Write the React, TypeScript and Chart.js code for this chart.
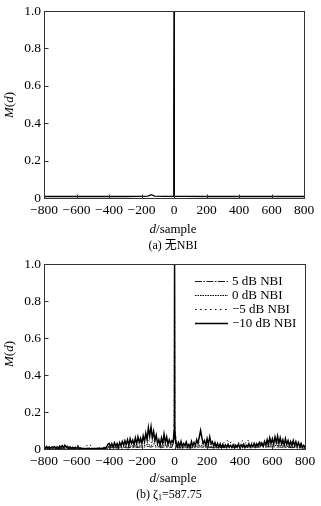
import React, { useEffect, useRef } from "react";
import { Chart, registerables } from "chart.js";

Chart.register(...registerables);

// ---------- Data ----------
// (a) no NBI: sparse samples of M(d)
const TOP_D = [-800, -700, -600, -500, -400, -300, -200, -160, -140, -120, -60, -3, -2, -1, 0, 1, 2, 3, 60, 200, 400, 600, 800];
const TOP_M = [0.008, 0.008, 0.008, 0.008, 0.008, 0.008, 0.009, 0.010, 0.018, 0.010, 0.009, 0.009, 0.25, 0.47, 1.0, 0.7, 0.3, 0.009, 0.009, 0.008, 0.008, 0.008, 0.008];

// (b) series on regular sample grids
const START_D = -800;
const STEP_FINE = 8; // −10 dB series
const STEP_COARSE = 16; // other series

const M_NEG10 = [
  0.010, 0.004, 0.014, 0.006, 0.012, 0.003, 0.011, 0.007, 0.013, 0.005,
  0.012, 0.004, 0.016, 0.008, 0.018, 0.006, 0.020, 0.010, 0.015, 0.005,
  0.012, 0.003, 0.010, 0.004, 0.008, 0.002, 0.015, 0.003, 0.006, 0.002,
  0.003, 0.001, 0.002, 0.001, 0.003, 0.002, 0.001, 0.002, 0.001, 0.002,
  0.001, 0.002, 0.001, 0.002, 0.001, 0.003, 0.002, 0.004, 0.012, 0.025,
  0.030, 0.012, 0.028, 0.010, 0.033, 0.015, 0.030, 0.008, 0.035, 0.018,
  0.040, 0.020, 0.045, 0.025, 0.050, 0.018, 0.055, 0.030, 0.048, 0.022,
  0.060, 0.028, 0.065, 0.035, 0.058, 0.030, 0.070, 0.040, 0.085, 0.050,
  0.115, 0.070, 0.120, 0.060, 0.095, 0.045, 0.075, 0.030, 0.050, 0.020,
  0.060, 0.030, 0.080, 0.035, 0.065, 0.025, 0.050, 0.030, 0.045, 0.035,
  1.0,
  0.030, 0.012, 0.035, 0.015, 0.040, 0.010, 0.030, 0.018, 0.038, 0.012,
  0.025, 0.010, 0.040, 0.015, 0.035, 0.020, 0.050, 0.030, 0.065, 0.100,
  0.060, 0.030, 0.045, 0.020, 0.055, 0.025, 0.065, 0.030, 0.040, 0.015,
  0.035, 0.012, 0.030, 0.010, 0.028, 0.008, 0.025, 0.010, 0.022, 0.008,
  0.025, 0.010, 0.020, 0.008, 0.022, 0.006, 0.020, 0.010, 0.025, 0.008,
  0.022, 0.010, 0.025, 0.008, 0.020, 0.012, 0.028, 0.010, 0.024, 0.012,
  0.030, 0.012, 0.028, 0.015, 0.035, 0.018, 0.032, 0.015, 0.040, 0.020,
  0.050, 0.022, 0.060, 0.030, 0.055, 0.025, 0.065, 0.035, 0.070, 0.030,
  0.060, 0.028, 0.050, 0.020, 0.055, 0.025, 0.045, 0.018, 0.040, 0.020,
  0.045, 0.018, 0.040, 0.015, 0.035, 0.012, 0.030, 0.010, 0.020, 0.008,
];

const M_NEG5 = [
  0.006, 0.010, 0.004, 0.008, 0.012, 0.005, 0.009, 0.004, 0.010, 0.006,
  0.004, 0.008, 0.003, 0.006, 0.004, 0.003, 0.010, 0.028, 0.018, 0.004,
  0.003, 0.005, 0.004, 0.010, 0.006, 0.015, 0.008, 0.018, 0.010, 0.020,
  0.012, 0.025, 0.015, 0.030, 0.018, 0.028, 0.020, 0.035, 0.025, 0.040,
  0.045, 0.030, 0.050, 0.025, 0.035, 0.018, 0.040, 0.020, 0.030, 0.025,
  1.0,
  0.020, 0.012, 0.025, 0.015, 0.020, 0.010, 0.022, 0.015, 0.030, 0.040,
  0.025, 0.030, 0.020, 0.025, 0.015, 0.022, 0.018, 0.030, 0.035, 0.050,
  0.030, 0.040, 0.025, 0.035, 0.030, 0.045, 0.028, 0.050, 0.030, 0.035,
  0.025, 0.030, 0.035, 0.040, 0.030, 0.045, 0.035, 0.040, 0.030, 0.035,
  0.028, 0.030, 0.022, 0.025, 0.020, 0.022, 0.015, 0.018, 0.012, 0.010,
];

const M_0 = [
  0.004, 0.006, 0.003, 0.005, 0.004, 0.007, 0.003, 0.005, 0.004, 0.006,
  0.003, 0.005, 0.004, 0.003, 0.002, 0.004, 0.003, 0.005, 0.004, 0.003,
  0.004, 0.006, 0.005, 0.008, 0.006, 0.010, 0.007, 0.012, 0.008, 0.010,
  0.009, 0.014, 0.010, 0.016, 0.012, 0.018, 0.013, 0.020, 0.015, 0.022,
  0.025, 0.018, 0.028, 0.015, 0.020, 0.012, 0.022, 0.014, 0.018, 0.015,
  1.0,
  0.012, 0.008, 0.014, 0.010, 0.012, 0.008, 0.013, 0.010, 0.018, 0.022,
  0.015, 0.018, 0.012, 0.014, 0.010, 0.013, 0.011, 0.015, 0.014, 0.020,
  0.016, 0.022, 0.015, 0.020, 0.018, 0.024, 0.016, 0.022, 0.018, 0.020,
  0.015, 0.018, 0.020, 0.022, 0.018, 0.025, 0.020, 0.022, 0.018, 0.020,
  0.016, 0.018, 0.014, 0.015, 0.012, 0.013, 0.010, 0.011, 0.008, 0.006,
];

const M_5 = [
  0.002, 0.004, 0.003, 0.002, 0.004, 0.003, 0.002, 0.003, 0.004, 0.002,
  0.003, 0.002, 0.004, 0.003, 0.002, 0.003, 0.002, 0.004, 0.003, 0.002,
  0.003, 0.004, 0.003, 0.005, 0.004, 0.006, 0.005, 0.007, 0.005, 0.006,
  0.005, 0.008, 0.006, 0.009, 0.007, 0.010, 0.008, 0.011, 0.009, 0.012,
  0.014, 0.010, 0.015, 0.009, 0.012, 0.008, 0.011, 0.009, 0.010, 0.008,
  1.0,
  0.007, 0.005, 0.008, 0.006, 0.007, 0.005, 0.008, 0.006, 0.010, 0.012,
  0.009, 0.010, 0.007, 0.008, 0.006, 0.008, 0.007, 0.009, 0.008, 0.011,
  0.009, 0.012, 0.008, 0.011, 0.010, 0.013, 0.009, 0.012, 0.010, 0.011,
  0.009, 0.010, 0.011, 0.012, 0.010, 0.013, 0.011, 0.012, 0.010, 0.011,
  0.009, 0.010, 0.008, 0.009, 0.007, 0.008, 0.006, 0.007, 0.005, 0.004,
];

// main-lobe shoulders around d = 0
const SHOULDER_D = [-2, -1, 1, 2];
const SHOULDER_NEG10 = [0.10, 0.38, 0.72, 0.12];
const SHOULDER_NEG5 = [0.08, 0.32, 0.66, 0.10];
const SHOULDER_0 = [0.06, 0.28, 0.62, 0.08];
const SHOULDER_5 = [0.05, 0.25, 0.58, 0.06];

const LABELS_B = ["5 dB NBI", "0 dB NBI", "\u22125 dB NBI", "\u221210 dB NBI"];

const X_TICKS_MIN = -800;
const X_TICKS_MAX = 800;
const X_TICK_STEP = 200;
const Y_TICK_STEP = 0.2;

// ---------- helpers ----------
function gridSeries(start: number, step: number, vals: number[], sd: number[], sm: number[]) {
  const pts = vals.map((v, i) => ({ x: start + i * step, y: v }));
  sd.forEach((d, i) => pts.push({ x: d, y: sm[i] }));
  pts.sort((a, b) => a.x - b.x);
  return pts;
}

const FONT = "'Liberation Serif', 'DejaVu Serif', serif";

const framePlugin = {
  id: "frameTicks",
  afterDraw(chart: any) {
    const { ctx, chartArea: a, scales } = chart;
    ctx.save();
    ctx.strokeStyle = "#333";
    ctx.lineWidth = 1;
    ctx.setLineDash([]);
    const l = Math.round(a.left) + 0.5;
    const t = Math.round(a.top) + 0.5;
    const r = Math.round(a.right) + 0.5;
    const b = Math.round(a.bottom) + 0.5;
    ctx.strokeRect(l, t, r - l, b - t);
    ctx.beginPath();
    scales.x.ticks.forEach((tk: any) => {
      const px = Math.round(scales.x.getPixelForValue(tk.value)) + 0.5;
      ctx.moveTo(px, b);
      ctx.lineTo(px, b - 4);
    });
    scales.y.ticks.forEach((tk: any) => {
      const py = Math.round(scales.y.getPixelForValue(tk.value)) + 0.5;
      ctx.moveTo(l, py);
      ctx.lineTo(l + 4, py);
    });
    ctx.stroke();
    ctx.restore();
  },
};

const legendPlugin = {
  id: "lineLegend",
  afterDraw(chart: any) {
    const ctx = chart.ctx;
    ctx.save();
    ctx.font = `13px ${FONT}`;
    ctx.textBaseline = "middle";
    ctx.fillStyle = "#000";
    chart.data.datasets.forEach((ds: any, i: number) => {
      const y = Math.round(31 + i * 14) + 0.5;
      ctx.beginPath();
      ctx.strokeStyle = "#000";
      ctx.lineWidth = ds.borderWidth;
      ctx.setLineDash(ds.borderDash || []);
      ctx.moveTo(195, y);
      ctx.lineTo(228, y);
      ctx.stroke();
      ctx.setLineDash([]);
      ctx.fillText(ds.label, 232, y);
    });
    ctx.restore();
  },
};

function makeOptions(padTop: number, padRight: number, xHeight: number) {
  return {
    responsive: false,
    animation: false as const,
    parsing: false as const,
    layout: { padding: { top: padTop, right: padRight, left: 0, bottom: 0 } },
    plugins: { legend: { display: false }, tooltip: { enabled: false } },
    elements: { point: { radius: 0 }, line: { tension: 0 } },
    scales: {
      x: {
        type: "linear" as const,
        min: X_TICKS_MIN,
        max: X_TICKS_MAX,
        grid: { display: false, drawTicks: false, tickLength: 0 },
        border: { display: false },
        ticks: {
          stepSize: X_TICK_STEP,
          padding: 4,
          maxRotation: 0,
          autoSkip: false,
          color: "#000",
          font: { family: FONT, size: 13.5 },
          callback: (v: any) => String(v).replace("-", "\u2212"),
        },
        afterFit: (s: any) => {
          s.height = xHeight;
        },
      },
      y: {
        min: 0,
        max: 1,
        grid: { display: false, drawTicks: false, tickLength: 0 },
        border: { display: false },
        ticks: {
          stepSize: Y_TICK_STEP,
          padding: 3,
          color: "#000",
          font: { family: FONT, size: 13.5 },
          callback: (v: any) => (Math.abs(v) < 1e-9 ? "0" : Number(v).toFixed(1)),
        },
        afterFit: (s: any) => {
          s.width = 44;
        },
      },
    },
  };
}

export default function App() {
  const ref1 = useRef<HTMLCanvasElement>(null);
  const ref2 = useRef<HTMLCanvasElement>(null);

  useEffect(() => {
    const c1 = new Chart(ref1.current as HTMLCanvasElement, {
      type: "line",
      data: {
        datasets: [
          {
            label: "无NBI",
            data: TOP_D.map((d, i) => ({ x: d, y: TOP_M[i] })),
            borderColor: "#000",
            borderWidth: 1.3,
          },
        ],
      },
      options: makeOptions(10, 17, 52) as any,
      plugins: [framePlugin],
    });

    const c2 = new Chart(ref2.current as HTMLCanvasElement, {
      type: "line",
      data: {
        datasets: [
          {
            label: LABELS_B[0],
            data: gridSeries(START_D, STEP_COARSE, M_5, SHOULDER_D, SHOULDER_5),
            borderColor: "#000",
            borderWidth: 0.9,
            borderDash: [7, 1.5, 1.5, 1.5],
          },
          {
            label: LABELS_B[1],
            data: gridSeries(START_D, STEP_COARSE, M_0, SHOULDER_D, SHOULDER_0),
            borderColor: "#000",
            borderWidth: 1,
            borderDash: [1.5, 1],
          },
          {
            label: LABELS_B[2],
            data: gridSeries(START_D, STEP_COARSE, M_NEG5, SHOULDER_D, SHOULDER_NEG5),
            borderColor: "#000",
            borderWidth: 1,
            borderDash: [1.5, 3.5],
          },
          {
            label: LABELS_B[3],
            data: gridSeries(START_D, STEP_FINE, M_NEG10, SHOULDER_D, SHOULDER_NEG10),
            borderColor: "#000",
            borderWidth: 1.5,
          },
        ],
      },
      options: makeOptions(14, 16, 57) as any,
      plugins: [framePlugin, legendPlugin],
    });

    return () => {
      c1.destroy();
      c2.destroy();
    };
  }, []);

  const txt: React.CSSProperties = {
    position: "absolute",
    fontFamily: "'Liberation Serif', 'Noto Sans CJK SC', serif",
    fontSize: 13,
    color: "#000",
    whiteSpace: "nowrap",
    lineHeight: 1,
    transform: "translate(-50%, -50%)",
  };
  const rot: React.CSSProperties = { ...txt, transform: "translate(-50%, -50%) rotate(-90deg)" };

  return (
    <div style={{ position: "absolute", left: 0, top: 0, width: 321, height: 506, background: "#fff" }}>
      <canvas ref={ref1} width={321} height={250} style={{ position: "absolute", left: 0, top: 0 }} />
      <canvas ref={ref2} width={321} height={256} style={{ position: "absolute", left: 0, top: 250 }} />
      <div style={{ ...rot, left: 8, top: 105 }}>
        <i>M</i>(<i>d</i>)
      </div>
      <div style={{ ...rot, left: 8, top: 354 }}>
        <i>M</i>(<i>d</i>)
      </div>
      <div style={{ ...txt, left: 173, top: 228 }}>
        <i>d</i>/sample
      </div>
      <div style={{ ...txt, left: 173, top: 245, fontSize: 12 }}>(a) 无NBI</div>
      <div style={{ ...txt, left: 173, top: 477 }}>
        <i>d</i>/sample
      </div>
      <div style={{ ...txt, left: 169, top: 495, fontSize: 12 }}>
        (b) ζ<sub style={{ fontSize: 8, verticalAlign: "-2px" }}>1</sub>=587.75
      </div>
    </div>
  );
}
